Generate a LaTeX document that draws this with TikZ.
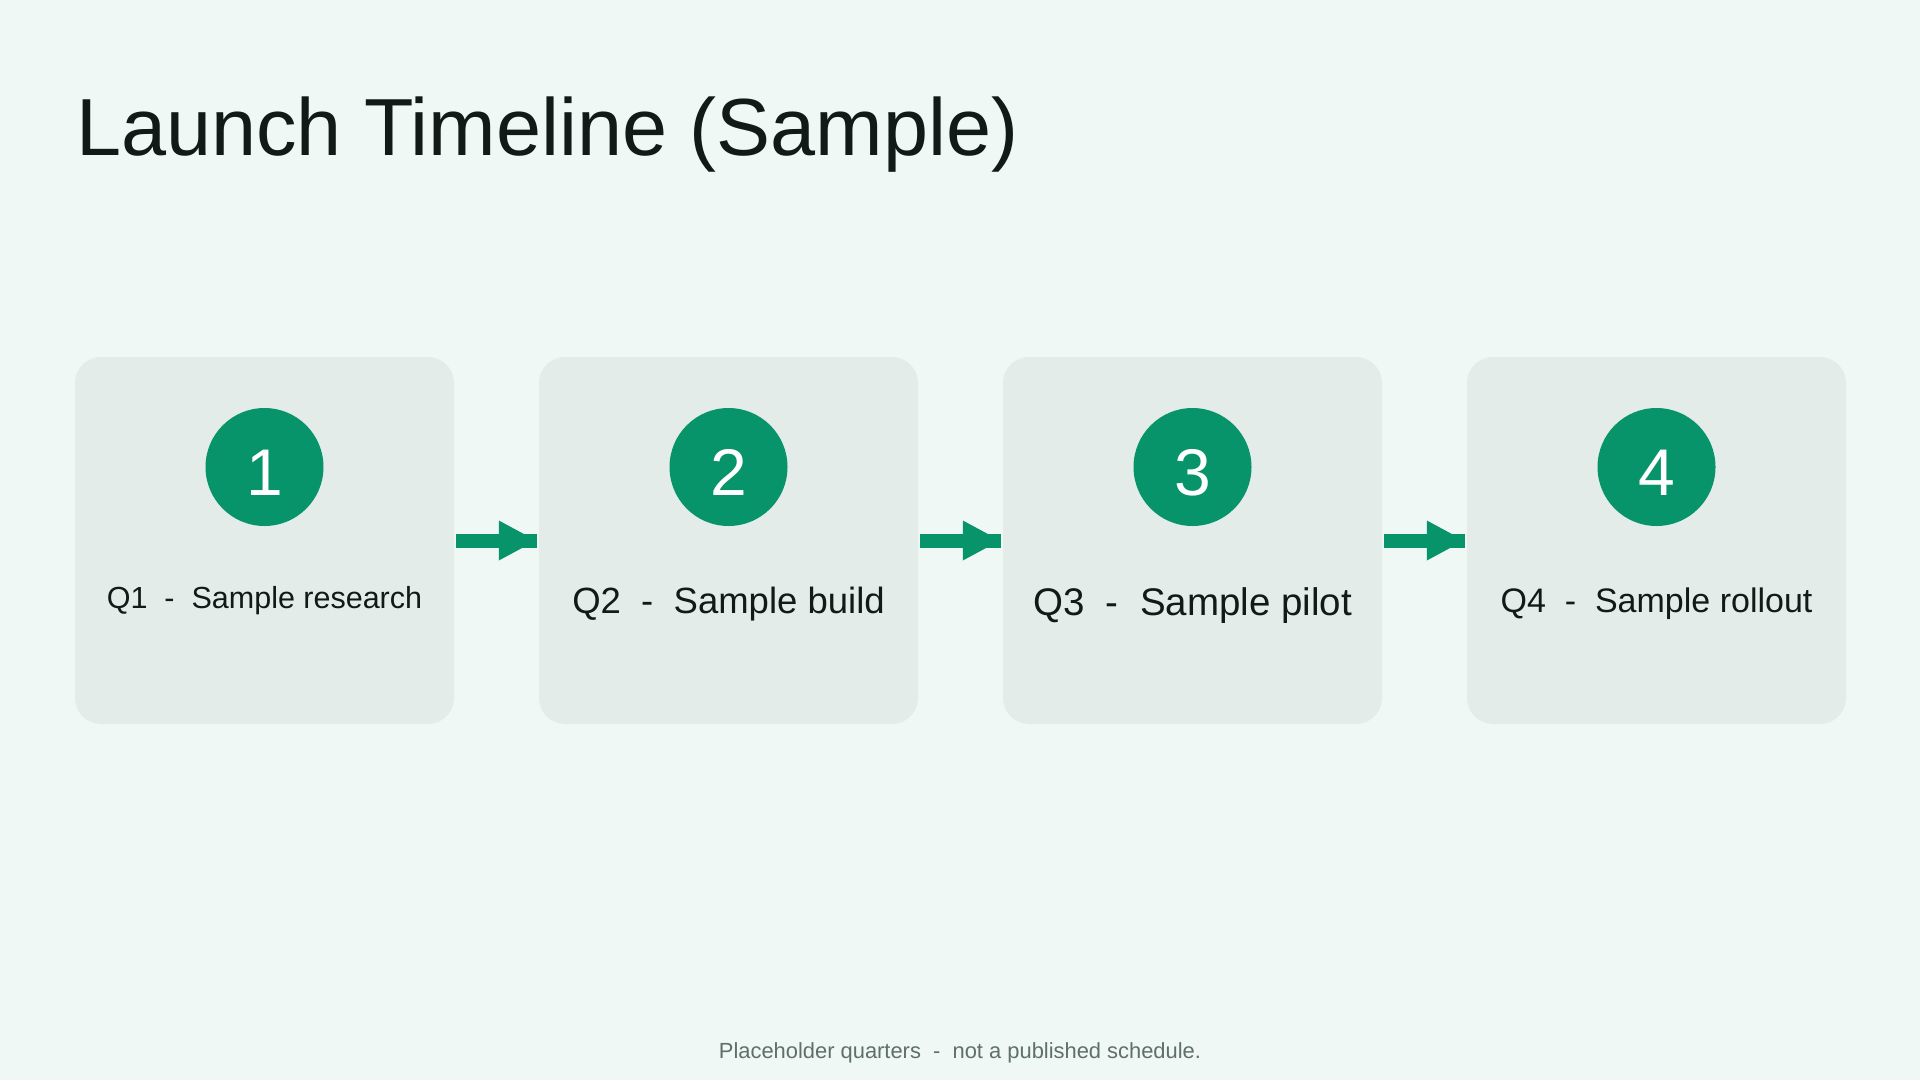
\documentclass[tikz,border=0pt]{standalone}
\usepackage{fontspec}
\setmainfont{Liberation Sans}
\usetikzlibrary{arrows.meta}
\definecolor{bgcol}{HTML}{EFF8F5}
\definecolor{boxcol}{HTML}{E3ECE9}
\definecolor{greencol}{HTML}{07946A}
\definecolor{inkcol}{HTML}{121A17}
\definecolor{footcol}{HTML}{5F6F69}
\tikzset{
  stagebox/.style={fill=boxcol, draw=none, rounded corners=26pt, minimum width=379pt, minimum height=367pt, inner sep=0pt},
  numdisc/.style={circle, fill=greencol, draw=none, minimum size=118pt, inner sep=0pt},
  numtext/.style={anchor=base, inner sep=0pt, text=white, font=\fontsize{66}{70}\selectfont},
  stagelabel/.style={anchor=base, inner sep=0pt, text=inkcol},
  shaftline/.style={draw=greencol, line width=14pt, line cap=butt, shorten <=2pt, shorten >=2pt},
  headline/.style={draw=greencol, line width=14pt, line cap=butt, shorten <=2pt, shorten >=2pt, -{Triangle[length=38pt,width=37pt]}}
}
\begin{document}
\begin{tikzpicture}[x=1pt,y=-1pt]
\useasboundingbox (0,0) rectangle (1920,1080);
\fill[bgcol] (0,0) rectangle (1920,1080);
\node[anchor=base west, inner sep=0pt, text=inkcol, font=\fontsize{81}{90}\selectfont] (title) at (76,155) {Launch Timeline (Sample)};
\node[stagebox] (b1) at (264.5,540.5) {};
\node[stagebox] (b2) at (728.5,540.5) {};
\node[stagebox] (b3) at (1192.5,540.5) {};
\node[stagebox] (b4) at (1656.5,540.5) {};
\node[numdisc] (c1) at (264.5,467) {};
\node[numdisc] (c2) at (728.5,467) {};
\node[numdisc] (c3) at (1192.5,467) {};
\node[numdisc] (c4) at (1656.5,467) {};
\node[numtext] (n1) at (264.5,495) {1};
\node[numtext] (n2) at (728.5,495) {2};
\node[numtext] (n3) at (1192.5,495) {3};
\node[numtext] (n4) at (1656.5,495) {4};
\node[stagelabel, font=\fontsize{30.5}{34}\selectfont] (l1) at (264.5,608) {Q1\ \ -\ \ Sample research};
\node[stagelabel, font=\fontsize{36.5}{40}\selectfont] (l2) at (728.5,613) {Q2\ \ -\ \ Sample build};
\node[stagelabel, font=\fontsize{38.5}{42}\selectfont] (l3) at (1192.5,615) {Q3\ \ -\ \ Sample pilot};
\node[stagelabel, font=\fontsize{34}{38}\selectfont] (l4) at (1656.5,612) {Q4\ \ -\ \ Sample rollout};
\draw[shaftline] (b1.east) -- (b2.west);
\draw[headline] (b1.east) -- (b2.west);
\draw[shaftline] (b2.east) -- (b3.west);
\draw[headline] (b2.east) -- (b3.west);
\draw[shaftline] (b3.east) -- (b4.west);
\draw[headline] (b3.east) -- (b4.west);
\node[anchor=base, inner sep=0pt, text=footcol, font=\fontsize{21.9}{25}\selectfont] (foot) at (960,1058) {Placeholder quarters\ \ -\ \ not a published schedule.};
\end{tikzpicture}
\end{document}
